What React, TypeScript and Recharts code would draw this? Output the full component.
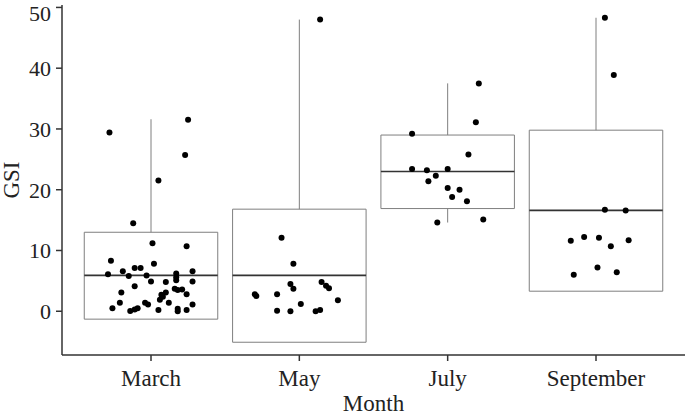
import {
  ComposedChart,
  Scatter,
  XAxis,
  YAxis,
  ReferenceArea,
  ReferenceLine,
  Label,
} from "recharts";

const months = ["March", "May", "July", "September"];

// box stats per month
const q1 = [-1.3, -5.1, 16.9, 3.3];
const median = [5.9, 5.9, 23.0, 16.6];
const q3 = [13.0, 16.8, 29.0, 29.8];
const whiskerLow = [-1.3, -5.1, 14.6, 3.3];
const whiskerHigh = [31.6, 48.0, 37.5, 48.3];

const yTicks = [0, 10, 20, 30, 40, 50];

// jittered observations: [x position, GSI]
const marchPoints = [
  [0.72, 29.4], [1.25, 31.5], [1.23, 25.7], [1.05, 21.5], [0.88, 14.5],
  [1.01, 11.2], [1.24, 10.7], [0.73, 8.3], [1.02, 7.8], [0.89, 7.1],
  [0.93, 7.1], [0.81, 6.6], [1.28, 6.6], [0.71, 6.1], [0.85, 5.8],
  [0.97, 5.9], [1.17, 6.2], [1.17, 5.6], [1.0, 4.9], [1.1, 4.8],
  [1.17, 5.1], [1.28, 4.9], [0.89, 4.1], [1.16, 3.7], [1.18, 3.5],
  [1.21, 3.6], [0.8, 3.1], [1.1, 3.1], [1.07, 2.7], [1.24, 2.8],
  [1.08, 2.4], [1.06, 1.9], [1.12, 1.4], [0.79, 1.4], [0.96, 1.4],
  [0.98, 1.1], [1.28, 1.1], [0.74, 0.5], [0.91, 0.5], [0.89, 0.3],
  [0.86, 0.05], [1.05, 0.2], [1.18, 0.4], [1.18, 0.0], [1.24, 0.2],
];
const mayPoints = [
  [2.14, 48.0], [1.88, 12.1], [1.96, 7.8], [1.94, 4.5], [1.96, 3.7],
  [2.15, 4.8], [2.18, 4.2], [2.2, 3.8], [1.7, 2.8], [1.71, 2.5],
  [1.85, 2.8], [2.26, 1.8], [2.01, 1.2], [1.85, 0.1], [1.94, 0.0],
  [2.11, 0.0], [2.14, 0.2],
];
const julyPoints = [
  [3.21, 37.5], [3.19, 31.1], [2.76, 29.2], [3.14, 25.8], [2.76, 23.4],
  [2.86, 23.2], [3.0, 23.4], [2.92, 22.3], [2.87, 21.4], [3.0, 20.3],
  [3.08, 20.0], [3.03, 18.8], [3.13, 18.1], [2.93, 14.6], [3.24, 15.1],
];
const septemberPoints = [
  [4.06, 48.3], [4.12, 38.9], [4.06, 16.7], [4.2, 16.6], [3.83, 11.6],
  [3.92, 12.2], [4.02, 12.1], [4.22, 11.7], [4.1, 10.7], [4.01, 7.2],
  [3.85, 6.0], [4.14, 6.4],
];

const points = [...marchPoints, ...mayPoints, ...julyPoints, ...septemberPoints].map(
  ([x, y]) => ({ x, y })
);

const BOX_HALF = 0.45;
const font = "'Liberation Serif', 'Times New Roman', serif";
const axisColor = "#333";
const boxColor = "#7f7f7f";

const Dot = (props: any) => <circle cx={props.cx} cy={props.cy} r={3} fill="#000" />;

export default function App() {
  return (
    <div style={{ position: "absolute", left: 0, top: 0, background: "#fff" }}>
      <ComposedChart
        width={685}
        height={415}
        margin={{ top: 5, right: 0, bottom: 0, left: 0 }}
        style={{ fontFamily: font }}
      >
        <XAxis
          type="number"
          dataKey="x"
          domain={[0.4, 4.6]}
          ticks={[1, 2, 3, 4]}
          tickFormatter={(v) => months[v - 1]}
          allowDataOverflow
          height={60}
          stroke={axisColor}
          strokeWidth={1.5}
          tickSize={6}
          tickMargin={9}
          tick={{ fill: "#222", fontSize: 23, fontFamily: font }}
        >
          <Label
            value="Month"
            position="insideBottom"
            offset={4}
            style={{ fill: "#222", fontSize: 23, fontFamily: font }}
          />
        </XAxis>
        <YAxis
          type="number"
          dataKey="y"
          domain={[-7.2, 50.4]}
          ticks={yTicks}
          allowDataOverflow
          width={62}
          stroke={axisColor}
          strokeWidth={1.5}
          tickSize={6}
          tickMargin={5}
          tick={{ fill: "#222", fontSize: 22, fontFamily: font }}
        >
          <Label
            content={(p: any) => {
              const vb = p.viewBox || { y: 5, height: 350 };
              const cy = vb.y + vb.height / 2;
              return (
                <text
                  x={19}
                  y={cy}
                  transform={`rotate(-90, 19, ${cy})`}
                  textAnchor="middle"
                  fill="#222"
                  fontSize={23}
                  fontFamily={font}
                >
                  GSI
                </text>
              );
            }}
          />
        </YAxis>

        {months.map((m, i) => (
          <ReferenceArea
            key={`box-${m}`}
            x1={i + 1 - BOX_HALF}
            x2={i + 1 + BOX_HALF}
            y1={q1[i]}
            y2={q3[i]}
            fill="#fff"
            fillOpacity={0}
            stroke={boxColor}
            strokeWidth={1}
          />
        ))}
        {months.map((m, i) => (
          <ReferenceLine
            key={`hi-${m}`}
            segment={[
              { x: i + 1, y: q3[i] },
              { x: i + 1, y: whiskerHigh[i] },
            ]}
            stroke={boxColor}
            strokeWidth={1}
          />
        ))}
        {months.map((m, i) =>
          whiskerLow[i] < q1[i] ? (
            <ReferenceLine
              key={`lo-${m}`}
              segment={[
                { x: i + 1, y: whiskerLow[i] },
                { x: i + 1, y: q1[i] },
              ]}
              stroke={boxColor}
              strokeWidth={1}
            />
          ) : null
        )}
        {months.map((m, i) => (
          <ReferenceLine
            key={`med-${m}`}
            segment={[
              { x: i + 1 - BOX_HALF, y: median[i] },
              { x: i + 1 + BOX_HALF, y: median[i] },
            ]}
            stroke="#333"
            strokeWidth={1.6}
          />
        ))}

        <Scatter data={points} shape={Dot} isAnimationActive={false} />
      </ComposedChart>
    </div>
  );
}
